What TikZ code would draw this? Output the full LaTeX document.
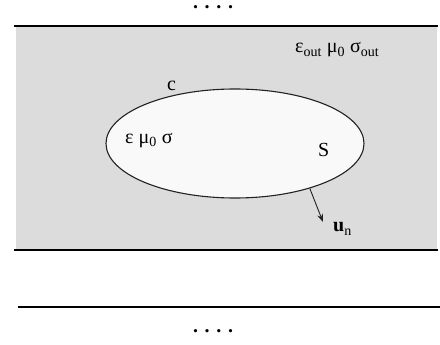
\documentclass[tikz,border=0pt]{standalone}
\usepackage{fontspec}
\setmainfont{Liberation Serif}
\usepackage{tikz}
\usetikzlibrary{arrows.meta,positioning,shapes.geometric}
\definecolor{mediumgray}{HTML}{DCDCDC}
\definecolor{regionfill}{HTML}{F9F9F9}
\definecolor{edgegray}{HTML}{222222}

\begin{document}
\begin{tikzpicture}[x=1pt, y=-1pt,
  txt/.style={font=\fontsize{20}{24}\selectfont, inner sep=0pt, anchor=base west},
  dots/.style={font=\fontsize{20}{24}\selectfont\bfseries, inner sep=0pt, anchor=base},
  layer/.style={line width=2pt, draw=black},
  region/.style={ellipse, draw=edgegray, fill=regionfill, line width=1.1pt,
                 minimum width=258pt, minimum height=109pt, inner sep=0pt},
  normal/.style={-{Stealth[length=8pt,width=6pt]}, line width=0.9pt, draw=edgegray}
]
\useasboundingbox (0,0) rectangle (440,345);
% outer medium
\fill[mediumgray] (16,27) rectangle (437,250);
\coordinate (tl) at (14,26);
\coordinate (tr) at (438,26);
\coordinate (bl) at (14,250);
\coordinate (br) at (438,250);
\coordinate (nl) at (18,307);
\coordinate (nr) at (440,307);
\draw[layer] (tl)--(tr);
\draw[layer] (bl)--(br);
\draw[layer] (nl)--(nr);
\node[dots] (topdots) at (213,9) {.\,\,.\,\,.\,\,.};
\node[dots] (botdots) at (213,332) {.\,\,.\,\,.\,\,.};
\node[txt] (outer) at (295,53) {ε\textsubscript{out} μ\textsubscript{0} σ\textsubscript{out}};

% conducting body
\node[region] (body) at (235,143.5) {};
\node[txt] (curve) at (167,90.5) {c};
\node[txt] (inner) at (125,143) {ε μ\textsubscript{0} σ};
\node[txt] (surf) at (318,157) {S};
\node[txt] (un) at (333,232) {\textbf{u}\textsubscript{n}};
\coordinate (tip) at (323,222);
\draw[normal] (body.-31)--(tip);
\end{tikzpicture}
\end{document}
